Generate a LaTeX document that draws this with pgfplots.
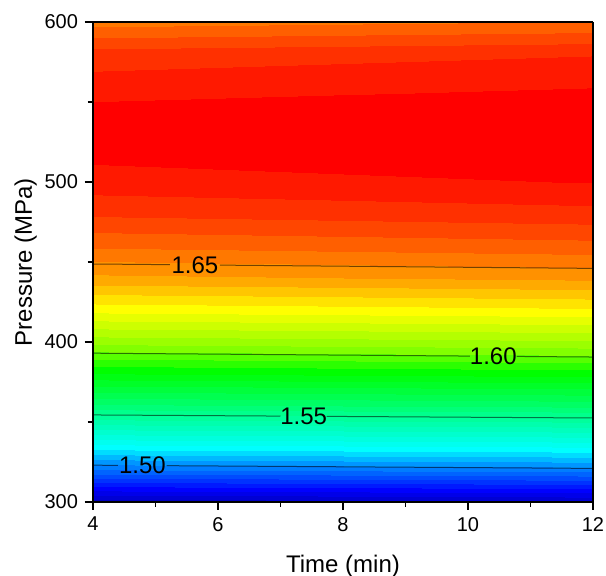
\documentclass[border=0pt]{standalone}
\usepackage{fontspec}
\setmainfont{Liberation Sans}
\usepackage{pgfplots}
\pgfplotsset{compat=1.18}
\pgfplotsset{
 colormap={base}{
  rgb255(0pt)=(0,0,190)
  rgb255(15pt)=(0,0,255)
  rgb255(45pt)=(0,150,255)
  rgb255(60pt)=(0,255,255)
  rgb255(95pt)=(0,255,140)
  rgb255(130pt)=(0,255,0)
  rgb255(145pt)=(130,255,0)
  rgb255(170pt)=(255,255,0)
  rgb255(185pt)=(255,170,0)
  rgb255(195pt)=(255,120,0)
  rgb255(205pt)=(255,70,0)
  rgb255(215pt)=(255,25,0)
  rgb255(220pt)=(255,0,0)
 },
 colormap={fine}{samples of colormap=(45 of base)},
}
\begin{document}
\begin{tikzpicture}
\begin{axis}[
 view={0}{90},
 scale only axis, width=250pt, height=240pt,
 xmin=4, xmax=12, ymin=300, ymax=600,
 xtick={4,6,8,10,12}, ytick={300,400,500,600},
 minor xtick={5,7,9,11}, minor ytick={350,450,550},
 tick align=outside, xtick pos=left, ytick pos=left,
 major tick length=4pt, minor tick length=2.5pt,
 every tick/.style={black, line width=0.6pt},
 axis line style={black, line width=0.6pt},
 point meta min=1.455, point meta max=1.680,
 colormap name=fine,
 xlabel={Time (min)}, ylabel={Pressure (MPa)},
 label style={font=\fontsize{12}{14}\selectfont},
 xlabel style={yshift=-5pt},
 ylabel style={yshift=-3pt},
 tick label style={font=\fontsize{10}{12}\selectfont},
 /pgf/number format/assume math mode=true,
 axis on top,
]
\addplot3[surf, shader=interp, colormap access=piecewise constant, mesh/cols=3, mesh/rows=16] table {
t P f
4 300 1.4568
8 300 1.4580
12 300 1.4592
4 320 1.4948
8 320 1.4960
12 320 1.4972
4 340 1.5268
8 340 1.5280
12 340 1.5292
4 360 1.5588
8 360 1.5600
12 360 1.5612
4 380 1.5848
8 380 1.5860
12 380 1.5872
4 400 1.6068
8 400 1.6080
12 400 1.6092
4 420 1.6268
8 420 1.6280
12 420 1.6292
4 440 1.6438
8 440 1.6450
12 440 1.6462
4 460 1.6558
8 460 1.6570
12 460 1.6582
4 480 1.6658
8 480 1.6670
12 480 1.6682
4 500 1.6728
8 500 1.6740
12 500 1.6752
4 520 1.6768
8 520 1.6780
12 520 1.6792
4 540 1.6778
8 540 1.6790
12 540 1.6802
4 560 1.6723
8 560 1.6735
12 560 1.6747
4 580 1.6673
8 580 1.6685
12 580 1.6697
4 600 1.6528
8 600 1.6540
12 600 1.6552
};
% contour lines, with gaps for labels
\pgfplotsset{cline/.style={black, opacity=0.55, line width=0.5pt, forget plot}}
\addplot[cline] coordinates {(4,448.75) (5.23,448.33)};
\addplot[cline] coordinates {(6.03,448.05) (12,446)};
\addplot[draw=none] coordinates {(5.23,448.33) (6.03,448.05)} node[pos=0.5, font=\fontsize{12}{14}\selectfont] {1.65};
\addplot[cline] coordinates {(4,393) (10.03,391.19)};
\addplot[cline] coordinates {(10.78,390.97) (12,390.6)};
\addplot[draw=none] coordinates {(10.03,391.19) (10.78,390.97)} node[pos=0.5, font=\fontsize{12}{14}\selectfont] {1.60};
\addplot[cline] coordinates {(4,354.4) (7.0,353.69)};
\addplot[cline] coordinates {(7.74,353.51) (12,352.5)};
\addplot[draw=none] coordinates {(7.0,353.69) (7.74,353.51)} node[pos=0.5, font=\fontsize{12}{14}\selectfont] {1.55};
\addplot[cline] coordinates {(4,323) (4.4,322.9)};
\addplot[cline] coordinates {(5.18,322.7) (12,321)};
\addplot[draw=none] coordinates {(4.4,322.9) (5.18,322.7)} node[pos=0.5, font=\fontsize{12}{14}\selectfont] {1.50};
\end{axis}
\pgfresetboundingbox
\path[use as bounding box] ([xshift=-46.5pt,yshift=-37pt]current axis.south west) rectangle ([xshift=6.5pt,yshift=11pt]current axis.north east);
\end{tikzpicture}
\end{document}
